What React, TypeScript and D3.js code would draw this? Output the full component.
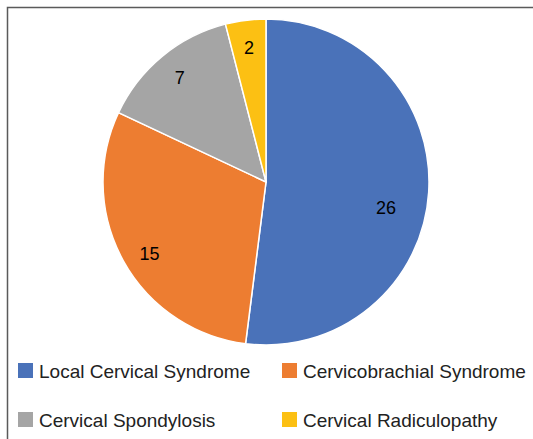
import React from "react";
import * as d3 from "d3";

// chart data
const categories = [
  "Local Cervical Syndrome",
  "Cervicobrachial Syndrome",
  "Cervical Spondylosis",
  "Cervical Radiculopathy",
];
const counts = [26, 15, 7, 2];
const colors = ["#4A72B9", "#ED7D31", "#A5A5A5", "#FCC013"];

const W = 533;
const H = 439;
const cx = 266;
const cy = 182;
const radius = 163;

export default function App() {
  const data = categories.map((name, i) => ({ name, value: counts[i], color: colors[i] }));

  // pie starts at 12 o'clock and goes clockwise, no sorting
  const pie = d3
    .pie<{ name: string; value: number; color: string }>()
    .value((d) => d.value)
    .sort(null);
  const arcs = pie(data);

  const arc = d3.arc<d3.PieArcDatum<any>>().innerRadius(0).outerRadius(radius);
  const labelArc = d3
    .arc<d3.PieArcDatum<any>>()
    .innerRadius(radius * 0.83)
    .outerRadius(radius * 0.83);

  // excel "best fit" nudges some labels a bit
  const labelNudge = [
    [-15, 18],
    [2, 7],
    [0, 0],
    [0, 0],
  ];

  // legend: 2 columns x 2 rows
  const colX = d3.scaleOrdinal<number, number>().domain([0, 1]).range([18, 282]);
  const rowY = d3.scaleOrdinal<number, number>().domain([0, 1]).range([363, 412]);

  return (
    <svg
      width={W}
      height={H}
      style={{ position: "absolute", left: 0, top: 0, background: "#fff" }}
      fontFamily="'Liberation Sans', Arial, sans-serif"
    >
      {/* frame, only top and left visible */}
      <path d={`M7.5,${H}V7.5H${W}`} fill="none" stroke="#5a5a5a" strokeWidth={1.5} />

      <g transform={`translate(${cx},${cy})`}>
        {arcs.map((a, i) => (
          <path key={i} d={arc(a) || ""} fill={a.data.color} stroke="#fff" strokeWidth={1.5} />
        ))}
        {arcs.map((a, i) => {
          const [x, y] = labelArc.centroid(a);
          return (
            <text
              key={"l" + i}
              x={x + labelNudge[i][0]}
              y={y + labelNudge[i][1]}
              textAnchor="middle"
              dominantBaseline="central"
              fontSize={18}
              fill="#000"
            >
              {a.data.value}
            </text>
          );
        })}
      </g>

      <g>
        {data.map((d, i) => {
          const x = colX(i % 2);
          const y = rowY(Math.floor(i / 2));
          return (
            <g key={d.name}>
              <rect x={x} y={y} width={15} height={15} fill={d.color} />
              <text x={x + 21} y={y + 14.5} fontSize={19} fill="#222">
                {d.name}
              </text>
            </g>
          );
        })}
      </g>
    </svg>
  );
}
